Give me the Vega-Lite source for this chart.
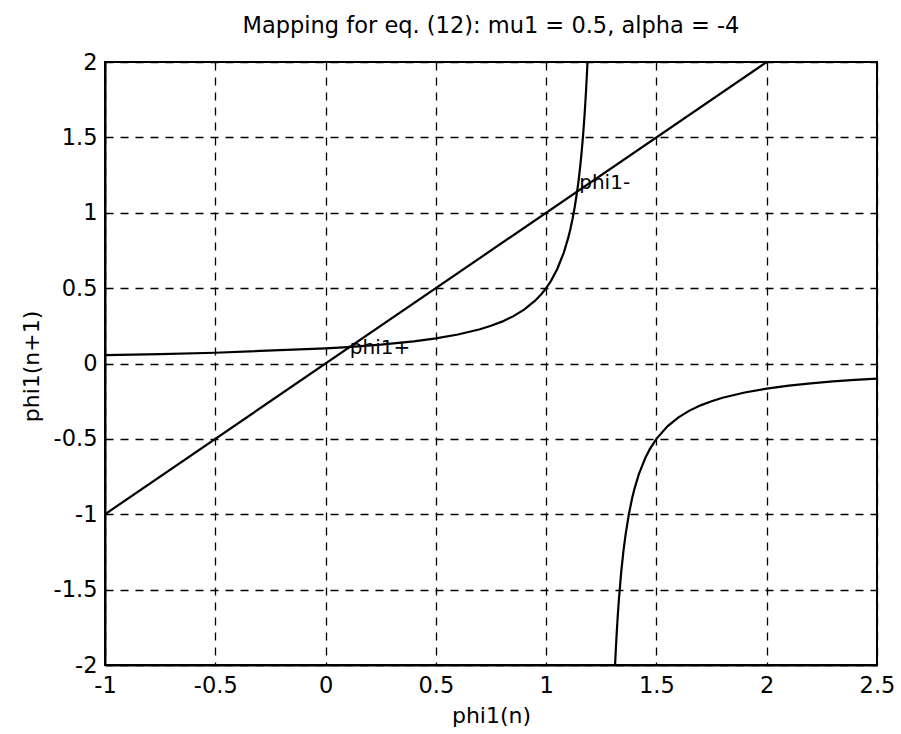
{
  "$schema": "https://vega.github.io/schema/vega-lite/v6.json",
  "width": 772,
  "height": 603,
  "autosize": {"type": "none"},
  "padding": {"left": 105, "top": 62, "right": 24, "bottom": 69},
  "background": "white",
  "title": {
    "text": "Mapping for eq. (12): mu1 = 0.5, alpha = -4",
    "font": "DejaVu Sans",
    "fontSize": 22.5,
    "fontWeight": "normal",
    "color": "black",
    "anchor": "middle",
    "frame": "group",
    "offset": 14
  },
  "datasets": {
    "curves": [
      {"x": -1.0, "y": 0.0556, "s": "map"},
      {"x": -0.75, "y": 0.0625, "s": "map"},
      {"x": -0.5, "y": 0.0714, "s": "map"},
      {"x": 0.0, "y": 0.1, "s": "map"},
      {"x": 0.1, "y": 0.1087, "s": "map"},
      {"x": 0.25, "y": 0.125, "s": "map"},
      {"x": 0.4, "y": 0.1471, "s": "map"},
      {"x": 0.5, "y": 0.1667, "s": "map"},
      {"x": 0.6, "y": 0.1923, "s": "map"},
      {"x": 0.7, "y": 0.2273, "s": "map"},
      {"x": 0.75, "y": 0.25, "s": "map"},
      {"x": 0.8, "y": 0.2778, "s": "map"},
      {"x": 0.85, "y": 0.3125, "s": "map"},
      {"x": 0.9, "y": 0.3571, "s": "map"},
      {"x": 0.95, "y": 0.4167, "s": "map"},
      {"x": 0.98, "y": 0.463, "s": "map"},
      {"x": 1.0, "y": 0.5, "s": "map"},
      {"x": 1.02, "y": 0.5435, "s": "map"},
      {"x": 1.05, "y": 0.625, "s": "map"},
      {"x": 1.08, "y": 0.7353, "s": "map"},
      {"x": 1.1, "y": 0.8333, "s": "map"},
      {"x": 1.11, "y": 0.8929, "s": "map"},
      {"x": 1.12, "y": 0.9615, "s": "map"},
      {"x": 1.13, "y": 1.0417, "s": "map"},
      {"x": 1.14, "y": 1.1364, "s": "map"},
      {"x": 1.145, "y": 1.1905, "s": "map"},
      {"x": 1.15, "y": 1.25, "s": "map"},
      {"x": 1.155, "y": 1.3158, "s": "map"},
      {"x": 1.16, "y": 1.3889, "s": "map"},
      {"x": 1.165, "y": 1.4706, "s": "map"},
      {"x": 1.17, "y": 1.5625, "s": "map"},
      {"x": 1.175, "y": 1.6667, "s": "map"},
      {"x": 1.18, "y": 1.7857, "s": "map"},
      {"x": 1.185, "y": 1.9231, "s": "map"},
      {"x": 1.1875, "y": 2.0, "s": "map"},
      {"x": 1.3125, "y": -2.0, "s": "map2"},
      {"x": 1.315, "y": -1.9231, "s": "map2"},
      {"x": 1.32, "y": -1.7857, "s": "map2"},
      {"x": 1.325, "y": -1.6667, "s": "map2"},
      {"x": 1.33, "y": -1.5625, "s": "map2"},
      {"x": 1.34, "y": -1.3889, "s": "map2"},
      {"x": 1.35, "y": -1.25, "s": "map2"},
      {"x": 1.36, "y": -1.1364, "s": "map2"},
      {"x": 1.375, "y": -1.0, "s": "map2"},
      {"x": 1.39, "y": -0.8929, "s": "map2"},
      {"x": 1.4, "y": -0.8333, "s": "map2"},
      {"x": 1.42, "y": -0.7353, "s": "map2"},
      {"x": 1.45, "y": -0.625, "s": "map2"},
      {"x": 1.47, "y": -0.5682, "s": "map2"},
      {"x": 1.5, "y": -0.5, "s": "map2"},
      {"x": 1.55, "y": -0.4167, "s": "map2"},
      {"x": 1.6, "y": -0.3571, "s": "map2"},
      {"x": 1.65, "y": -0.3125, "s": "map2"},
      {"x": 1.7, "y": -0.2778, "s": "map2"},
      {"x": 1.75, "y": -0.25, "s": "map2"},
      {"x": 1.8, "y": -0.2273, "s": "map2"},
      {"x": 1.9, "y": -0.1923, "s": "map2"},
      {"x": 2.0, "y": -0.1667, "s": "map2"},
      {"x": 2.1, "y": -0.1471, "s": "map2"},
      {"x": 2.2, "y": -0.1316, "s": "map2"},
      {"x": 2.3, "y": -0.119, "s": "map2"},
      {"x": 2.4, "y": -0.1087, "s": "map2"},
      {"x": 2.5, "y": -0.1, "s": "map2"},
      {"x": -1.0, "y": -1.0, "s": "diag"},
      {"x": 2.0, "y": 2.0, "s": "diag"}
    ],
    "labels": [
      {"x": 0.11, "y": 0.1, "label": "phi1+"},
      {"x": 1.15, "y": 1.2, "label": "phi1-"}
    ]
  },
  "layer": [
    {
      "data": {"name": "curves"},
      "mark": {"type": "line", "color": "black", "strokeWidth": 2.2, "clip": true},
      "encoding": {
        "x": {
          "field": "x",
          "type": "quantitative",
          "scale": {"domain": [-1, 2.5], "nice": false, "zero": false},
          "axis": {
            "values": [-1, -0.5, 0, 0.5, 1, 1.5, 2, 2.5],
            "title": "phi1(n)",
            "labelPadding": 9,
            "titleBaseline": "alphabetic",
            "titleY": 57
          }
        },
        "y": {
          "field": "y",
          "type": "quantitative",
          "scale": {"domain": [-2, 2], "nice": false, "zero": false},
          "axis": {
            "values": [-2, -1.5, -1, -0.5, 0, 0.5, 1, 1.5, 2],
            "title": "phi1(n+1)",
            "labelPadding": 8,
            "titleBaseline": "alphabetic",
            "titleX": -67,
            "titleY": 304
          }
        },
        "detail": {"field": "s"}
      }
    },
    {
      "data": {"name": "labels"},
      "mark": {"type": "text", "align": "left", "baseline": "middle", "font": "DejaVu Sans", "fontSize": 20, "color": "black"},
      "encoding": {
        "x": {"field": "x", "type": "quantitative"},
        "y": {"field": "y", "type": "quantitative"},
        "text": {"field": "label"}
      }
    }
  ],
  "config": {
    "view": {"stroke": "black", "strokeWidth": 2},
    "axis": {
      "labelFont": "DejaVu Sans",
      "labelFontSize": 22.5,
      "labelColor": "black",
      "format": "~g",
      "labelExpr": "replace(datum.label, '−', '-')",
      "titleFont": "DejaVu Sans",
      "titleFontSize": 22,
      "titleFontWeight": "normal",
      "titleColor": "black",
      "domainColor": "black",
      "domainWidth": 2,
      "ticks": false,
      "grid": true,
      "gridColor": "black",
      "gridOpacity": 1,
      "gridWidth": 1.3,
      "gridDash": [8, 7],
      "labelFlush": false,
      "labelOverlap": false
    }
  }
}
